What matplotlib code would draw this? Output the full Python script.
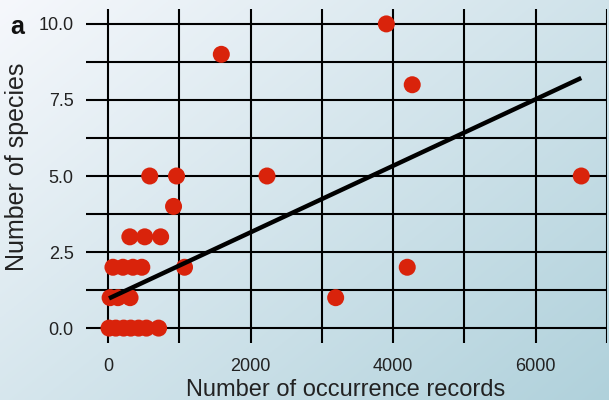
import numpy as np
import matplotlib
matplotlib.use("Agg")
import matplotlib.pyplot as plt

plt.rcParams['font.family'] = ['Liberation Sans', 'DejaVu Sans']

# Data
records = [3905, 1590, 4268, 6639, 2231, 586, 962, 920, 4198, 1074, 3194,
           307, 516, 739,
           70, 210, 350, 475,
           30, 140, 310,
           15, 110, 220, 320, 430, 540, 710]
species = [10, 9, 8, 5, 5, 5, 5, 4, 2, 2, 1,
           3, 3, 3,
           2, 2, 2, 2,
           1, 1, 1,
           0, 0, 0, 0, 0, 0, 0]
fit_intercept = 0.96
fit_slope = 0.001094

x_ticks = [0, 2000, 4000, 6000]
x_grid = [0, 1000, 2000, 3000, 4000, 5000, 6000, 7000]
y_ticks = [0.0, 2.5, 5.0, 7.5, 10.0]
y_grid = [0.0, 1.25, 2.5, 3.75, 5.0, 6.25, 7.5, 8.75, 10.0]

fig = plt.figure(figsize=(6.09, 4.0), dpi=100)

# gradient background
bg = fig.add_axes([0, 0, 1, 1], zorder=-10)
gx, gy = np.meshgrid(np.linspace(0, 1, 300), np.linspace(0, 1, 200))
t = np.clip(0.55 * gx + 0.45 * gy, 0, 1)
c0 = np.array([0.965, 0.972, 0.988])
c1 = np.array([0.69, 0.82, 0.86])
img = c0[None, None, :] * (1 - t[..., None]) + c1[None, None, :] * t[..., None]
bg.imshow(img, aspect='auto', extent=[0, 1, 0, 1], origin='upper')
bg.axis('off')

ax = fig.add_axes([86/609, 57/400, 521/609, 334/400])
ax.patch.set_alpha(0)
for s in ax.spines.values():
    s.set_visible(False)
ax.set_xlim(-308, 7000)
ax.set_ylim(-0.49, 10.49)

for gxv in x_grid:
    ax.axvline(gxv, color='black', lw=1.5, zorder=1)
for gyv in y_grid:
    ax.axhline(gyv, color='black', lw=1.5, zorder=1)

ax.scatter(records, species, s=150, color='#d9230b', edgecolors='none', zorder=3)
xl = np.array([min(records), max(records)])
ax.plot(xl, fit_intercept + fit_slope * xl, color='black', lw=3.2, zorder=4,
        solid_capstyle='butt')

ax.set_xticks(x_ticks)
ax.set_xticklabels([str(v) for v in x_ticks])
ax.set_yticks(y_ticks)
ax.set_yticklabels([f"{v:.1f}" for v in y_ticks])
ax.tick_params(length=0, labelsize=13, colors='#222222')
ax.tick_params(axis='y', pad=9)
ax.tick_params(axis='x', pad=11)

fig.text(346/609, 1 - 396/400, "Number of occurrence records", fontsize=17,
         color='#222222', ha='center', va='baseline')
fig.text(17/609, 1 - 167/400, "Number of species", fontsize=18,
         color='#222222', ha='center', va='center', rotation=90)

fig.text(10/609, 1 - 34/400, "a", fontsize=18, fontweight='bold', va='baseline',
         ha='left', color='#111111')

fig.savefig("out.png", dpi=100)
